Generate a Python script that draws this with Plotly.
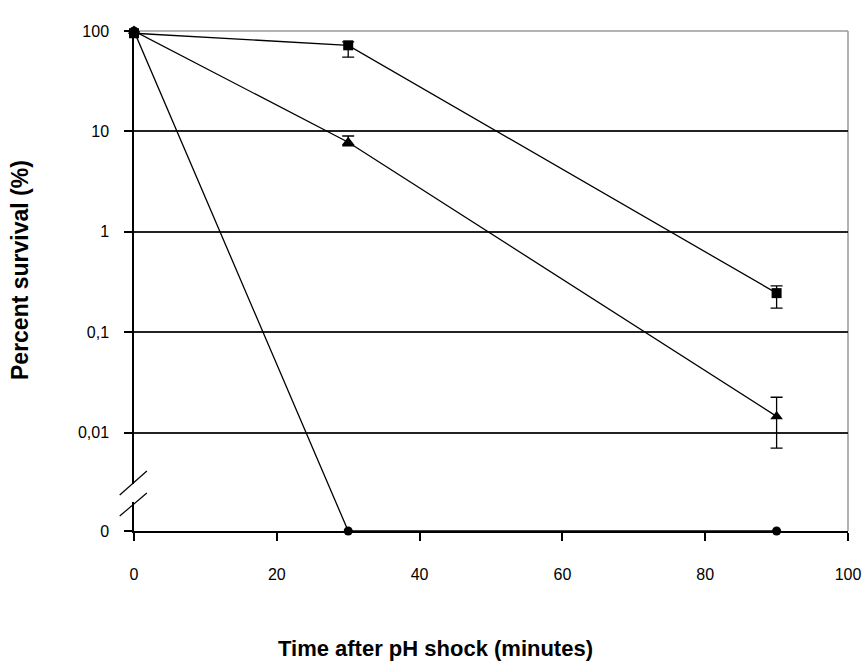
import plotly.graph_objects as go

# ---- data ----
time_min = [0, 30, 90]
square_vals = [95, 72, 0.245]
square_err_plus = [0, 6, 0.045]
square_err_minus = [0, 17, 0.071]
triangle_vals = [100, 7.8, 0.0145]
triangle_err_plus = [0, 1.2, 0.008]
triangle_err_minus = [0, 0.6, 0.0075]
circle_vals = [100, 0, 0]

ZERO_LEVEL = 10 ** -2.98  # position used for "0" on the broken log axis
y_tick_vals = [ZERO_LEVEL, 0.01, 0.1, 1, 10, 100]
y_tick_text = ["0", "0,01", "0,1", "1", "10", "100"]
x_tick_vals = [0, 20, 40, 60, 80, 100]

def to_plot(vals):
    return [v if v > 0 else ZERO_LEVEL for v in vals]

FONT = "Liberation Sans, Arial, sans-serif"

W, H = 862, 666
PL, PR, PT, PB = 134, 848, 31, 531  # plot area in window pixels

fig = go.Figure()

line_style = dict(color="black", width=1.3)
fig.add_trace(go.Scatter(
    x=time_min, y=to_plot(circle_vals), mode="lines+markers",
    line=line_style, marker=dict(symbol="circle", size=9, color="black"),
    showlegend=False, cliponaxis=False))
fig.add_trace(go.Scatter(
    x=time_min, y=to_plot(triangle_vals), mode="lines+markers",
    line=line_style, marker=dict(symbol="triangle-up", size=11, color="black"),
    error_y=dict(type="data", array=triangle_err_plus, arrayminus=triangle_err_minus,
                 color="black", thickness=1.3, width=6),
    showlegend=False, cliponaxis=False))
fig.add_trace(go.Scatter(
    x=time_min, y=to_plot(square_vals), mode="lines+markers",
    line=line_style, marker=dict(symbol="square", size=10, color="black"),
    error_y=dict(type="data", array=square_err_plus, arrayminus=square_err_minus,
                 color="black", thickness=1.3, width=6),
    showlegend=False, cliponaxis=False))

fig.update_layout(
    width=W, height=H,
    margin=dict(l=PL, r=W - PR, t=PT, b=H - PB, autoexpand=False),
    paper_bgcolor="white", plot_bgcolor="white",
    font=dict(family=FONT, size=16, color="black"),
    xaxis=dict(
        range=[0, 100], tickvals=x_tick_vals, ticks="outside", ticklen=8,
        tickcolor="black", tickwidth=1.5, showgrid=False, zeroline=False,
        showline=True, linecolor="black", linewidth=1.5,
        mirror=False, ticklabelstandoff=20, automargin=False,
        ticklabeloverflow="allow",
        tickfont=dict(family=FONT, size=16),
    ),
    yaxis=dict(
        type="log", range=[-2.98, 2.0], tickvals=y_tick_vals, ticktext=y_tick_text,
        ticks="outside", ticklen=8, tickcolor="black", tickwidth=1.5,
        showgrid=True, gridcolor="#222222", gridwidth=1.5, zeroline=False,
        showline=True, linecolor="black", linewidth=1.5,
        ticklabelstandoff=12, automargin=False,
        tickfont=dict(family=FONT, size=16),
    ),
)

# gray frame on top and right
fig.add_shape(type="line", xref="x domain", yref="y domain", x0=0, x1=1, y0=1, y1=1,
              line=dict(color="#9a9a9a", width=1.5), layer="below")
fig.add_shape(type="line", xref="x domain", yref="y domain", x0=1, x1=1, y0=0, y1=1,
              line=dict(color="#9a9a9a", width=1.5), layer="below")

# axis break
fig.add_shape(type="rect", xref="x domain", yref="y domain", x0=-0.004, x1=0.004,
              y0=0.058, y1=0.094, fillcolor="white", line=dict(width=0), layer="above")
fig.add_shape(type="line", xref="x domain", yref="y domain", x0=-0.02, x1=0.018,
              y0=0.072, y1=0.12, line=dict(color="black", width=1.2), layer="above")
fig.add_shape(type="line", xref="x domain", yref="y domain", x0=-0.02, x1=0.018,
              y0=0.03, y1=0.076, line=dict(color="black", width=1.2), layer="above")

# axis titles (positions in window pixels, converted to plot-relative paper coords)
pw, ph = PR - PL, PB - PT
fig.add_annotation(text="<b>Time after pH shock (minutes)</b>", xref="paper", yref="paper",
                   x=(435 - PL) / pw, y=-(648 - PB) / ph, showarrow=False,
                   font=dict(family=FONT, size=22), xanchor="center", yanchor="middle")
fig.add_annotation(text="<b>Percent survival (%)</b>", xref="paper", yref="paper",
                   x=-(PL - 20) / pw, y=(PB - 270) / ph, showarrow=False, textangle=-90,
                   font=dict(family=FONT, size=23), xanchor="center", yanchor="middle")

fig.write_html("out.html",
               config={"displayModeBar": False},
               post_script="document.body.style.margin='0px';document.body.style.overflow='hidden';")
